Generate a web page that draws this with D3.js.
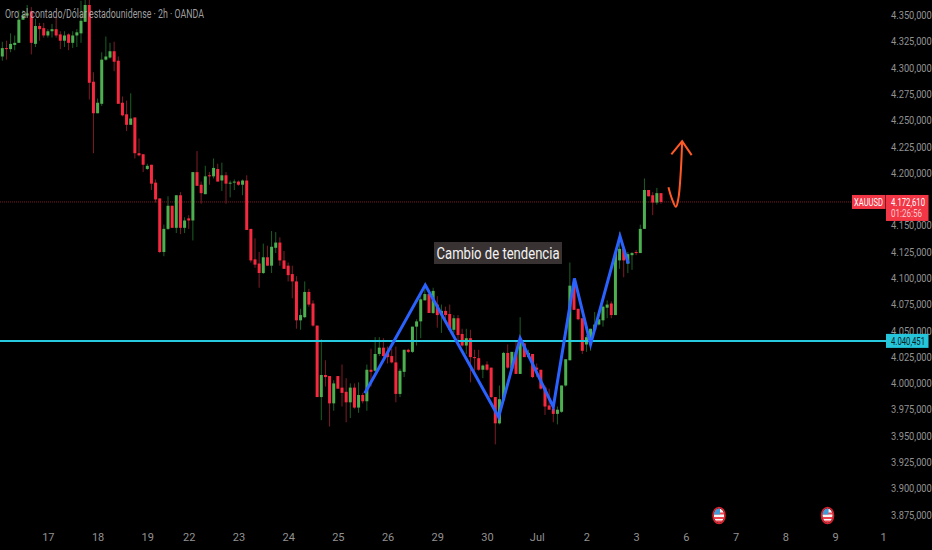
<!DOCTYPE html>
<html>
<head>
<meta charset="utf-8">
<script src="https://cdn.jsdelivr.net/npm/d3@7"></script>
<style>
html,body{margin:0;padding:0;background:#000;overflow:hidden}
svg{display:block}
text{font-family:"Liberation Sans Narrow","Roboto","Liberation Sans",sans-serif}
</style>
</head>
<body>
<svg id="c" width="932" height="550"></svg>
<script>
const title = "Oro al contado/Dólar estadounidense · 2h · OANDA";
const note = "Cambio de tendencia";
const symbol = "XAUUSD";
const countdown = "01:26:56";
const lastPrice = 4172.61;
const supportPrice = 4040.451;

const open = [
4311,4319,4318,4322,4324,4346,4350,4354,4323,4340,
4338,4331,4335,4337,4332,4326,4332,4324,4331,4333,
4344,4360,4287,4257,4266,4308,4310,4316,4307,4267,
4256,4246,4253,4219,4218,4204,4208,4191,4176,4125,
4147,4169,4148,4179,4148,4157,4155,4201,4189,4180,
4198,4197,4204,4193,4198,4190,4191,4192,4189,4193,
4147,4118,4114,4105,4120,4112,4129,4134,4117,4112,
4104,4097,4060,4063,4087,4076,4055,3987,4008,4007,
3981,4007,3996,3992,3982,3996,3977,3989,3983,4013,
4012,4028,4034,4030,4026,4020,3990,4011,4032,4030,
4054,4059,4079,4085,4067,4075,4065,4069,4066,4051,
4062,4047,4036,4043,4025,4024,4013,4018,4015,3987,
3962,3984,4029,4014,4030,4009,4038,4025,4028,4015,
4013,3996,3979,3976,3971,3973,3998,4022,4093,4071,
4062,4037,4037,4051,4056,4060,4072,4076,4065,4117,
4128,4114,4122,4125,4124,4147,4184,4179,4172,4181];
const high = [
4325,4326,4333,4331,4355,4355,4360,4358,4347,4343,
4343,4337,4342,4348,4335,4335,4333,4335,4337,4364,
4366,4366,4296,4271,4315,4330,4324,4325,4311,4273,
4269,4276,4253,4233,4218,4209,4208,4194,4176,4151,
4178,4169,4179,4182,4158,4160,4201,4221,4192,4207,
4201,4214,4209,4210,4201,4193,4194,4193,4194,4198,
4147,4138,4125,4133,4131,4145,4144,4139,4126,4115,
4112,4102,4071,4097,4090,4079,4055,4042,4022,4007,
4003,4007,4018,4005,4000,4000,4001,3991,4018,4033,
4044,4044,4043,4035,4033,4035,4014,4032,4033,4054,
4061,4084,4095,4085,4091,4083,4075,4073,4075,4065,
4065,4052,4052,4051,4032,4032,4018,4021,4015,3987,
3998,4030,4037,4030,4041,4063,4038,4032,4028,4019,
4013,3998,3995,3982,3978,3998,4023,4115,4100,4071,
4062,4046,4052,4068,4061,4074,4079,4078,4125,4144,
4128,4125,4125,4127,4151,4195,4184,4182,4186,4181];
const low = [
4307,4308,4315,4317,4324,4346,4349,4313,4320,4326,
4329,4329,4329,4329,4318,4320,4317,4319,4320,4324,
4344,4270,4219,4257,4264,4307,4309,4297,4266,4254,
4240,4246,4214,4216,4201,4203,4184,4172,4124,4121,
4146,4148,4143,4142,4143,4147,4136,4188,4171,4180,
4189,4195,4192,4183,4171,4177,4184,4188,4179,4146,
4115,4110,4091,4104,4112,4105,4124,4112,4109,4097,
4081,4052,4051,4062,4073,4054,3987,3965,3997,3959,
3974,3995,3978,3963,3967,3976,3972,3981,3974,3997,
4011,4026,4025,4019,4019,3982,3987,4006,4029,4029,
4036,4043,4079,4067,4066,4053,4048,4060,4051,4048,
4041,4035,4028,4001,4009,4012,4005,4012,3986,3942,
3961,3983,4014,4013,4009,4009,4025,4025,4005,4006,
3994,3970,3975,3963,3961,3972,3997,4022,4070,4060,
4028,4030,4031,4051,4055,4054,4062,4062,4065,4109,
4101,4105,4108,4122,4124,4147,4178,4160,4170,4171];
const close = [
4319,4318,4323,4324,4346,4350,4352,4324,4340,4337,
4331,4335,4337,4331,4326,4331,4324,4331,4334,4345,
4360,4286,4257,4267,4308,4311,4316,4306,4266,4255,
4246,4252,4219,4217,4208,4207,4190,4175,4125,4147,
4169,4148,4179,4148,4155,4155,4201,4188,4181,4197,
4197,4205,4192,4198,4190,4191,4192,4189,4193,4146,
4117,4113,4105,4120,4112,4130,4134,4117,4109,4103,
4097,4060,4065,4087,4075,4055,3987,4008,4006,3981,
4000,3995,3991,3982,3996,3977,3989,3983,4013,4011,
4028,4034,4026,4025,4020,3990,4012,4032,4030,4054,
4059,4080,4085,4067,4088,4065,4069,4065,4051,4062,
4046,4036,4043,4025,4024,4013,4017,4013,3987,3962,
3985,4029,4015,4030,4009,4041,4025,4029,4006,4013,
3995,3978,3975,3971,3975,3998,4023,4093,4070,4061,
4031,4044,4052,4056,4061,4073,4075,4065,4125,4128,
4117,4123,4124,4124,4147,4184,4178,4172,4181,4172.61];

const priceTicks = [4350,4325,4300,4275,4250,4225,4200,4150,4125,4100,4075,4050,4025,4000,3975,3950,3925,3900,3875];
const dateTickBars = [12,24,36,46,58,70,82,94,106,118,130,142,154,166,178,190,202,213.6];
const dateTickLabels = ["17","18","19","22","23","24","25","26","29","30","Jul","2","3","6","7","8","9","1"];
const zigzagBars = [88.5,103.1,120.8,126,134,139.1,143,150.1,152.1];
const zigzagPrices = [3990.7,4093.5,3968,4043,3977.6,4099.9,4037.3,4140,4114];
const curveBars = [161.8,162.6,163.6,164.2,164.8,165.1];
const curvePrices = [4186.5,4176,4168,4176,4203,4230.5];
const headBars = [162.5,165.1,167.4];
const headPrices = [4217.9,4230.5,4217.2];
const eventBars = [174,200.2];

const W = 932, H = 550, axisX = 886;
const svg = d3.select("#c");
const x = d3.scaleLinear().domain([1,160]).range([2.3,661]);
const y = d3.scaleLinear().domain([3875,4350]).range([514.8,15.5]);
const idx = d3.range(open.length);
const isUp = i => close[i] >= open[i];

svg.append("rect").attr("width",W).attr("height",H).attr("fill","#000");

const plot = svg.append("g");

// last price dotted line
plot.append("line").attr("x1",0).attr("x2",axisX-34)
  .attr("y1",y(lastPrice)).attr("y2",y(lastPrice))
  .attr("stroke","#7d1a24").attr("stroke-width",1).attr("stroke-dasharray","1 1");

// wicks
plot.append("g").selectAll("line").data(idx).join("line")
  .attr("x1",i=>x(i+1)).attr("x2",i=>x(i+1))
  .attr("y1",i=>y(high[i])).attr("y2",i=>y(low[i]))
  .attr("stroke",i=>isUp(i)?"#1c5f26":"#7d1c26").attr("stroke-width",1);

// bodies
plot.append("g").selectAll("rect").data(idx).join("rect")
  .attr("x",i=>x(i+1)-1.5).attr("width",3)
  .attr("y",i=>y(Math.max(open[i],close[i])))
  .attr("height",i=>Math.max(1,Math.abs(y(open[i])-y(close[i]))))
  .attr("fill",i=>isUp(i)?"#4caf50":"#f7293f");

// support line
plot.append("line").attr("x1",0).attr("x2",axisX)
  .attr("y1",y(supportPrice)).attr("y2",y(supportPrice))
  .attr("stroke","#27c9de").attr("stroke-width",2);

// zigzag
const ln = d3.line().x(d=>x(d[0])).y(d=>y(d[1]));
plot.append("path").attr("d",ln(zigzagBars.map((b,i)=>[b,zigzagPrices[i]])))
  .attr("fill","none").attr("stroke","#2962ff").attr("stroke-width",3)
  .attr("stroke-linejoin","miter");

// orange arrow
const curve = d3.line().x(d=>x(d[0])).y(d=>y(d[1])).curve(d3.curveCatmullRom);
plot.append("path").attr("d",curve(curveBars.map((b,i)=>[b,curvePrices[i]])))
  .attr("fill","none").attr("stroke","#ff5a26").attr("stroke-width",2);
plot.append("path").attr("d",ln(headBars.map((b,i)=>[b,headPrices[i]])))
  .attr("fill","none").attr("stroke","#ff5a26").attr("stroke-width",2);

// annotation
const noteG = plot.append("g");
noteG.append("rect").attr("x",434).attr("y",242).attr("width",128).attr("height",22).attr("fill","#393233");
noteG.append("text").attr("x",498).attr("y",258.5).attr("text-anchor","middle")
  .attr("font-size",17).attr("fill","#f2f2f2")
  .attr("textLength",123).attr("lengthAdjust","spacingAndGlyphs").text(note);

// title
svg.append("text").attr("x",5).attr("y",18).attr("font-size",12).attr("fill","#b4b4b4")
  .attr("fill-opacity",.9).attr("textLength",199).attr("lengthAdjust","spacingAndGlyphs").text(title);

// price axis
const loc = d3.formatLocale({decimal:",",thousands:".",grouping:[3],currency:["",""]});
const fmt = loc.format(",.3f");
const yAxis = svg.append("g").attr("transform",`translate(${axisX},0)`)
  .call(d3.axisRight(y).tickValues(priceTicks).tickFormat(fmt).tickSize(0).tickPadding(5));
yAxis.select(".domain").remove();
yAxis.selectAll("text").attr("font-size",10).attr("fill","#929292")
  .attr("font-family",'"Liberation Sans Narrow",Roboto,sans-serif')
  .attr("x",0).attr("transform","translate(5,0) scale(.93,1)");

// date axis
const xAxis = svg.append("g").attr("transform","translate(0,533.5)")
  .call(d3.axisBottom(x).tickValues(dateTickBars)
    .tickFormat((d,i)=>dateTickLabels[i]).tickSize(0).tickPadding(0));
xAxis.select(".domain").remove();
xAxis.selectAll("text").attr("font-size",11).attr("fill","#929292")
  .attr("font-family",'"Liberation Sans Narrow",Roboto,sans-serif');

// price labels: squeeze each to the width it has in the reference
const fitLabel = (tx,ty,size,fill,str,wanted) => {
  const t = svg.append("text").attr("font-size",size).attr("fill",fill).text(str);
  const k = wanted / t.node().getComputedTextLength();
  t.attr("transform",`translate(${tx},${ty}) scale(${k},1)`);
  return t;
};
svg.append("rect").attr("x",852).attr("y",yl()-7).attr("width",33.5).attr("height",14).attr("fill","#f23645");
fitLabel(854,yl()+3.8,10.5,"#fff",symbol,29);
svg.append("rect").attr("x",886).attr("y",yl()-7).attr("width",42.5).attr("height",26).attr("fill","#f23645");
fitLabel(891,yl()+3.8,10.5,"#fff",fmt(lastPrice),34);
fitLabel(891,yl()+15.5,10,"#ffc9ce",countdown,31);
svg.append("rect").attr("x",886).attr("y",y(supportPrice)-7).attr("width",42.5).attr("height",14).attr("fill","#25c6dc");
fitLabel(891,y(supportPrice)+3.8,10.5,"#102226",fmt(supportPrice),34);
function yl(){ return y(lastPrice); }

// event flags
const defs = svg.append("defs");
defs.append("clipPath").attr("id","flagclip").append("ellipse").attr("rx",5.2).attr("ry",7);
const flag = svg.append("g").selectAll("g").data(eventBars).join("g")
  .attr("transform",d=>`translate(${x(d)},515.5)`);
const fg = flag.append("g").attr("clip-path","url(#flagclip)");
fg.append("rect").attr("x",-6).attr("y",-8).attr("width",12).attr("height",16).attr("fill","#f5f5f5");
fg.append("rect").attr("x",-6).attr("y",-3).attr("width",12).attr("height",2).attr("fill","#f0414f");
fg.append("rect").attr("x",-6).attr("y",1.5).attr("width",12).attr("height",2).attr("fill","#f0414f");
fg.append("rect").attr("x",-6).attr("y",5).attr("width",12).attr("height",3).attr("fill","#f0414f");
fg.append("rect").attr("x",-6).attr("y",-8).attr("width",7).attr("height",7).attr("fill","#3f9bd8");
flag.append("ellipse").attr("rx",6).attr("ry",8).attr("fill","none").attr("stroke","#d8222f").attr("stroke-width",1.6);
</script>
</body>
</html>
